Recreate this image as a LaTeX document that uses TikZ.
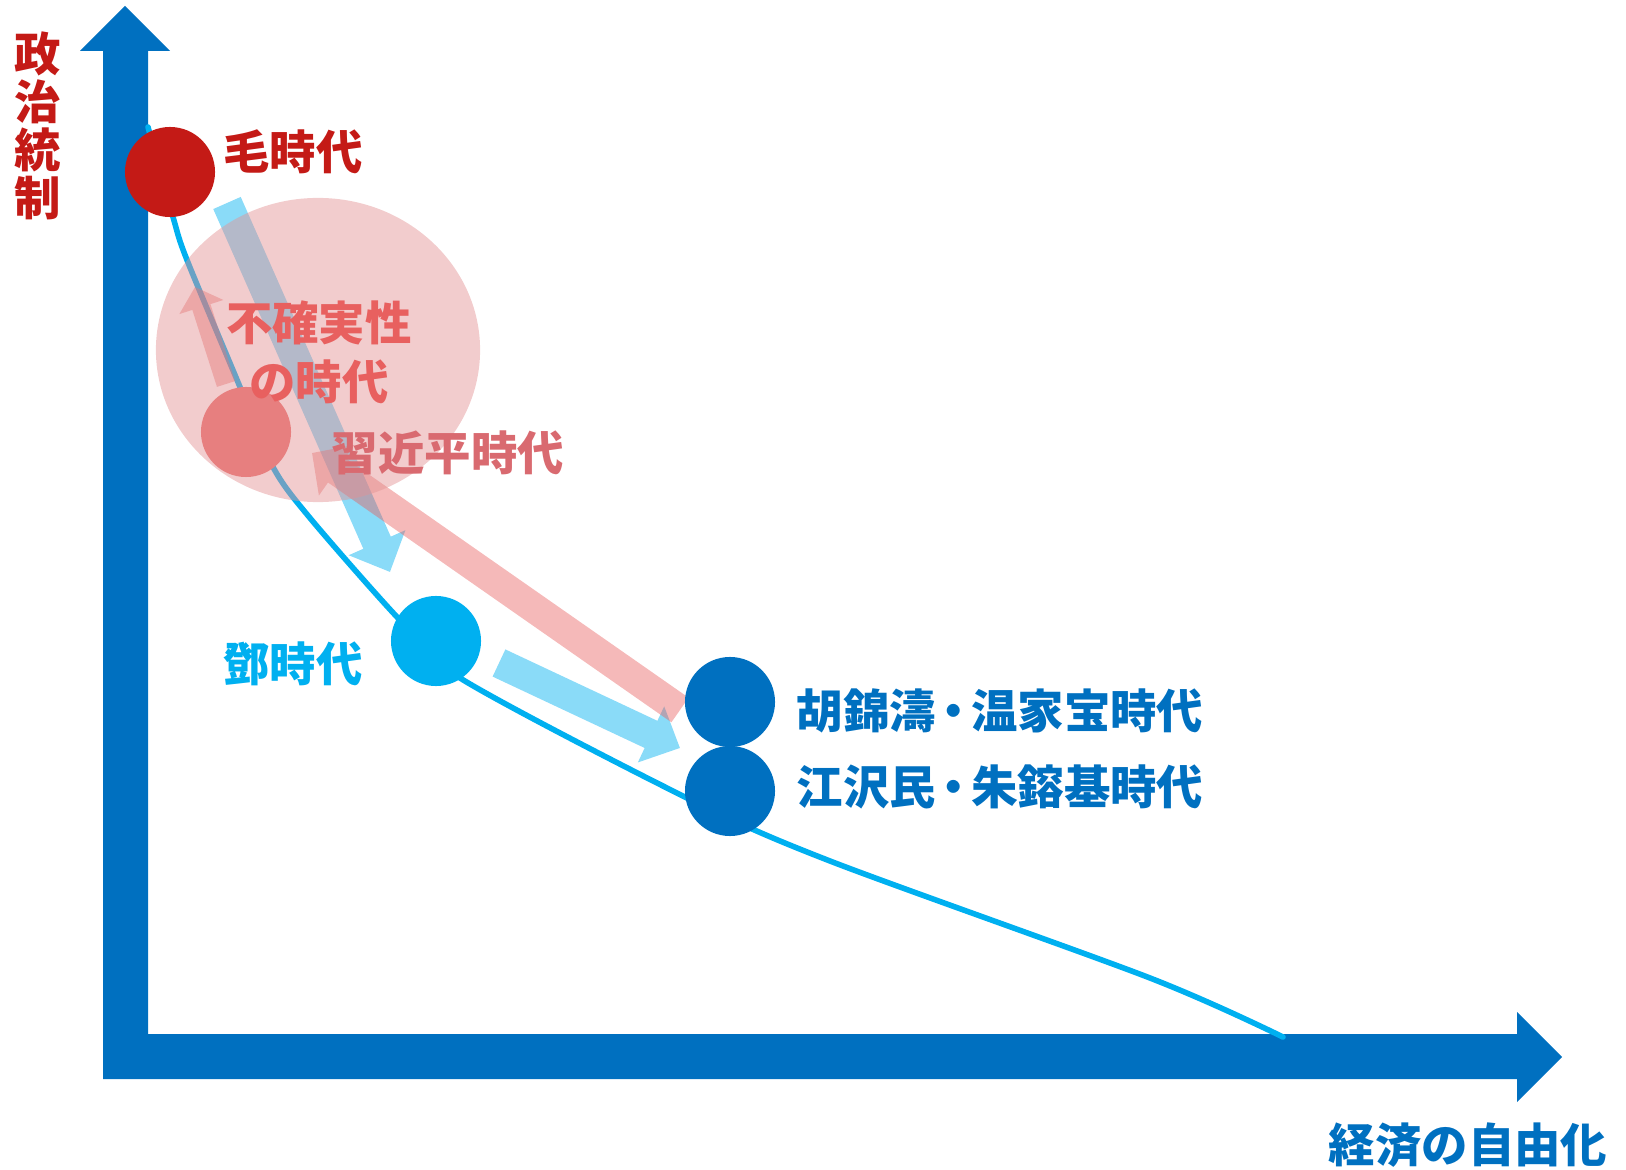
\documentclass[tikz,border=0pt]{standalone}
\usepackage{fontspec}
\newfontfamily\jp{Noto Sans CJK JP}
\usetikzlibrary{arrows.meta}
\definecolor{axisblue}{RGB}{0,112,192}
\definecolor{cyanb}{RGB}{0,176,240}
\definecolor{maored}{RGB}{196,26,22}
\definecolor{salmon}{RGB}{232,96,95}
\definecolor{xired}{RGB}{231,127,127}
\definecolor{xitext}{RGB}{217,106,112}
\definecolor{pinkc}{RGB}{227,146,148}
\begin{document}
\begin{tikzpicture}[x=0.01cm,y=-0.01cm,
  dot/.style={circle,minimum size=0.9cm,inner sep=0pt,draw=none},
  lbl/.style={font=\jp\bfseries\fontsize{13.2}{15}\selectfont,inner sep=0pt},
  curveline/.style={draw=cyanb,line width=0.056cm,line cap=round},
  bigarrow/.style={line width=0.3cm,-{Triangle[length=0.32cm,width=0.6cm]}},
  smallarrow/.style={line width=0.19cm,-{Triangle[length=0.21cm,width=0.45cm]}}]
\useasboundingbox (0,0) rectangle (1626,1170);
% axes
\fill[axisblue] (103,1079) -- (103,51) -- (80,51) -- (125,6) -- (170,51) -- (148,51)
  -- (148,1034) -- (1517,1034) -- (1517,1012) -- (1562,1057) -- (1517,1102) -- (1517,1079) -- cycle;
% curve
\draw[curveline] plot[smooth,tension=0.5] coordinates {(148,127) (173,217) (187,260) (240,387) (273,467) (310,518) (397,617) (460,678) (687,798) (830,861) (1150,978) (1283,1037)};
% arrow end points
\coordinate (b1s) at (227,203); \coordinate (b1e) at (390,572);
\coordinate (b2s) at (499,663); \coordinate (b2e) at (680,748);
\coordinate (r1s) at (680,710); \coordinate (r1e) at (312,453);
\coordinate (r2s) at (226,384); \coordinate (r2e) at (195,287);
\begin{scope}[transparency group,opacity=0.46]
  \draw[bigarrow,draw=cyanb,fill=cyanb] (b1s) -- (b1e);
\end{scope}
\begin{scope}[transparency group,opacity=0.46]
  \draw[bigarrow,draw=cyanb,fill=cyanb] (b2s) -- (b2e);
\end{scope}
\begin{scope}[transparency group,opacity=0.44]
  \draw[bigarrow,draw=salmon,fill=salmon,-{Triangle[length=0.3cm,width=0.6cm]}] (r1s) -- (r1e);
\end{scope}
\begin{scope}[transparency group,opacity=0.44]
  \draw[smallarrow,draw=salmon,fill=salmon] (r2s) -- (r2e);
\end{scope}
% uncertainty bubble
\fill[pinkc,opacity=0.466] (318,350) ellipse [x radius=1.62cm,y radius=1.52cm];
% dots
\node[dot,fill=maored] (mao) at (170,172) {};
\node[dot,fill=xired] (xi) at (246,432) {};
\node[dot,fill=cyanb] (deng) at (436,641) {};
\node[dot,fill=axisblue] (hu) at (730,702) {};
\node[dot,fill=axisblue] (jiang) at (730,791) {};
% labels
\node[lbl,text=maored,align=center,font=\jp\bfseries\fontsize{13.2}{13.66}\selectfont] (ly) at (38,126) {政\\治\\統\\制};
\node[lbl,text=maored] (lmao) at (293,152) {毛時代};
\node[lbl,text=salmon,align=center,font=\jp\bfseries\fontsize{13.2}{16.8}\selectfont] (lunc) at (319,352) {不確実性\\の時代};
\node[lbl,text=xitext] (lxi) at (448,453) {習近平時代};
\node[lbl,text=cyanb] (ldeng) at (293,664) {鄧時代};
\node[lbl,text=axisblue,anchor=west] (lhu) at (796,711) {胡錦濤\kern-0.12em・\kern-0.12em温家宝時代};
\node[lbl,text=axisblue,anchor=west] (ljiang) at (796,787) {江沢民\kern-0.12em・\kern-0.12em朱鎔基時代};
\node[lbl,text=axisblue] (lx) at (1468,1145) {経済の自由化};
\end{tikzpicture}
\end{document}
